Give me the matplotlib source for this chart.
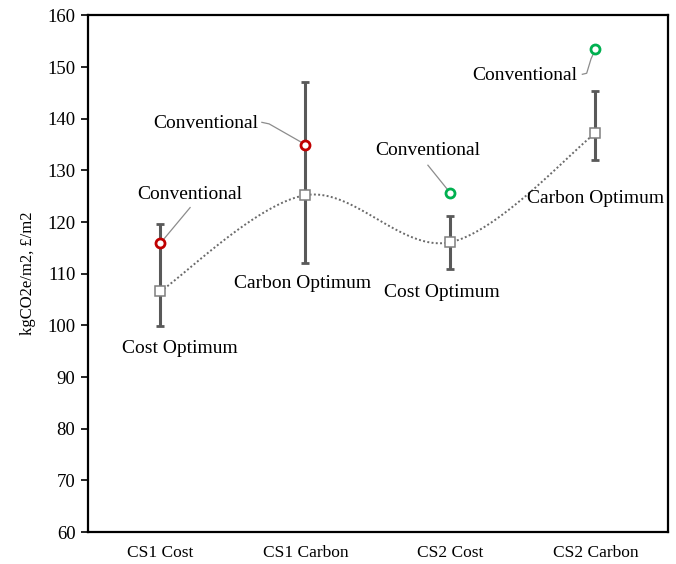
import numpy as np
import matplotlib.pyplot as plt

plt.rcParams['font.family'] = ['Liberation Serif', 'DejaVu Serif']

categories = ["CS1 Cost", "CS1 Carbon", "CS2 Cost", "CS2 Carbon"]
optimum = [106.6, 125.2, 116.1, 137.2]
err_low = [99.8, 112.0, 111.0, 132.1]
err_high = [119.6, 147.2, 121.1, 145.3]
conventional = [115.9, 135.0, 125.6, 153.4]
conv_colors = ["#C00000", "#C00000", "#00B050", "#00B050"]
optimum_labels = ["Cost Optimum", "Carbon Optimum", "Cost Optimum", "Carbon Optimum"]


def smooth_curve(x, y, n=40, tension=1 / 6):
    # cardinal-spline style bezier through the points
    x = np.asarray(x, float)
    y = np.asarray(y, float)
    xs, ys = [], []
    for i in range(len(x) - 1):
        p0 = np.array([x[max(i - 1, 0)], y[max(i - 1, 0)]])
        p1 = np.array([x[i], y[i]])
        p2 = np.array([x[i + 1], y[i + 1]])
        p3 = np.array([x[min(i + 2, len(x) - 1)], y[min(i + 2, len(x) - 1)]])
        c1 = p1 + (p2 - p0) * tension
        c2 = p2 - (p3 - p1) * tension
        t = np.linspace(0, 1, n)[:, None]
        pts = ((1 - t) ** 3) * p1 + 3 * ((1 - t) ** 2) * t * c1 + 3 * (1 - t) * t ** 2 * c2 + t ** 3 * p2
        xs.extend(pts[:, 0])
        ys.extend(pts[:, 1])
    return xs, ys


fig = plt.figure(figsize=(6.76, 5.64), dpi=100)
ax = fig.add_axes([0.130, 0.0567, 0.858, 0.916])

x = np.arange(len(categories))

sx, sy = smooth_curve(x, optimum)
ax.plot(sx, sy, ls=(0, (1, 1.2)), color="#6b6b6b", lw=1.4, zorder=2)

yerr = [np.array(optimum) - np.array(err_low), np.array(err_high) - np.array(optimum)]
ax.errorbar(x, optimum, yerr=yerr, fmt="none", ecolor="#595959", elinewidth=2.2,
            capsize=3, capthick=2, zorder=3)
ax.plot(x, optimum, "s", ms=7.5, mfc="white", mec="#7f7f7f", mew=1.1, zorder=4)

for xi, yi, c in zip(x, conventional, conv_colors):
    ax.plot(xi, yi, "o", ms=6.5, mfc="white", mec=c, mew=2.0, zorder=5)

# "Conventional" call-outs: text offset, then leader polyline (offsets from each point)
conv_text = [(0.205, 125.3), (-0.69, 139.1), (-0.155, 133.9), (-0.487, 148.4)]
leaders = [
    [(0.205, 122.8)],
    [(-0.30, 139.3), (-0.25, 139.0)],
    [(-0.155, 131.0)],
    [(-0.09, 148.6), (-0.06, 148.8), (-0.03, 151.6)],
]
for xi, yi, (dx, ty), pts in zip(x, conventional, conv_text, leaders):
    ax.text(xi + dx, ty, "Conventional", ha="center", va="center", fontsize=14)
    lx = [xi + p[0] for p in pts] + [xi]
    ly = [p[1] for p in pts] + [yi]
    # stop the leader at the circle's edge
    vx, vy = lx[-1] - lx[-2], ly[-1] - ly[-2]
    scale = np.hypot(vx / 4.0 * 580, vy / 100 * 517)
    f = max(0.0, 1 - 5.0 / scale)
    lx[-1] = lx[-2] + vx * f
    ly[-1] = ly[-2] + vy * f
    ax.plot(lx, ly, color="#8c8c8c", lw=0.9, zorder=1)

opt_text = [(0.134, 95.6), (-0.017, 108.2), (-0.06, 106.4), (0.0, 124.6)]
for lbl, (dx, ty), xi in zip(optimum_labels, opt_text, x):
    ax.text(xi + dx, ty, lbl, ha="center", va="center", fontsize=14)

ax.set_xlim(-0.5, 3.5)
ax.set_ylim(60, 160)
ax.set_yticks(np.arange(60, 161, 10))
ax.set_xticks(x)
ax.set_xticklabels(categories)
ax.tick_params(axis="x", length=0, pad=9, labelsize=12.5)
ax.tick_params(axis="y", direction="out", length=5, width=1.2, labelsize=13.5, pad=4)
for s in ax.spines.values():
    s.set_linewidth(1.6)
ax.set_ylabel("kgCO2e/m2, £/m2", fontsize=12, labelpad=8)

fig.savefig("out.png", dpi=100)
